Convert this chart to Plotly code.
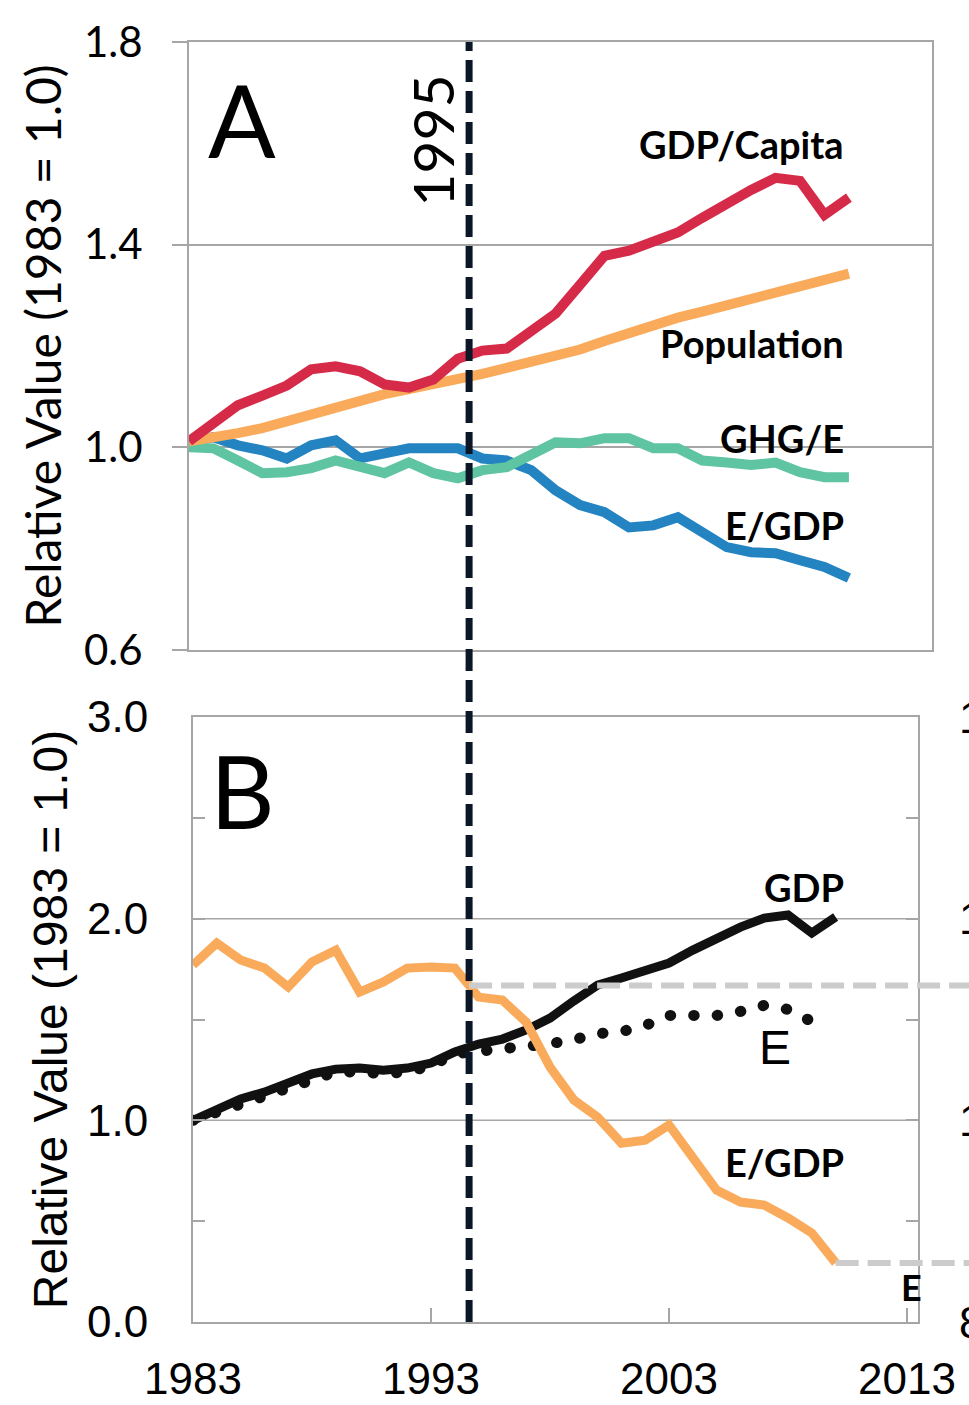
import numpy as np
import plotly.graph_objects as go

# ---------------- data ----------------
years = list(range(1983, 2011))

# Panel A (relative to 1983)
gdp_per_capita = [1.012, 1.047, 1.083, 1.102, 1.122, 1.154, 1.160, 1.150, 1.124, 1.118,
                  1.134, 1.175, 1.191, 1.195, 1.229, 1.264, 1.321, 1.378, 1.388, 1.406,
                  1.424, 1.453, 1.483, 1.508, 1.532, 1.526, 1.459, 1.493]
population = [1.012, 1.018, 1.028, 1.038, 1.052, 1.067, 1.081, 1.095, 1.105, 1.115,
              1.124, 1.132, 1.145, 1.157, 1.168, 1.180, 1.193, 1.210, 1.227, 1.244,
              1.256, 1.268, 1.280, 1.294, 1.309, 1.320, 1.332, 1.343]
ghg_per_energy = [1.000, 0.998, 0.974, 0.949, 0.951, 0.959, 0.974, 0.961, 0.949, 0.970,
                  0.949, 0.939, 0.955, 0.961, 0.988, 1.010, 1.008, 1.018, 1.018, 0.998,
                  0.998, 0.974, 0.970, 0.965, 0.970, 0.951, 0.941, 0.941]
energy_per_gdp_a = [1.012, 1.020, 1.004, 0.994, 0.978, 1.004, 1.014, 0.978, 0.988, 0.998,
                    0.998, 0.998, 0.978, 0.974, 0.955, 0.915, 0.886, 0.872, 0.842, 0.846,
                    0.862, 0.833, 0.803, 0.793, 0.791, 0.777, 0.764, 0.742]

# Panel B
gdp = [1.000, 1.056, 1.106, 1.140, 1.185, 1.230, 1.254, 1.259, 1.249, 1.259,
       1.284, 1.339, 1.378, 1.403, 1.448, 1.507, 1.592, 1.671, 1.706, 1.745,
       1.780, 1.844, 1.904, 1.958, 2.003, 2.018, 1.929, 2.008]
energy_years = list(range(1983, 2010))
energy = [1.000, 1.040, 1.090, 1.120, 1.160, 1.210, 1.240, 1.240, 1.230, 1.240,
          1.270, 1.330, 1.340, 1.350, 1.360, 1.380, 1.400, 1.430, 1.440, 1.470,
          1.520, 1.520, 1.520, 1.540, 1.570, 1.550, 1.490]
energy_per_gdp_b = [1.770, 1.879, 1.795, 1.755, 1.661, 1.785, 1.844, 1.636, 1.686, 1.755,
                    1.760, 1.755, 1.611, 1.596, 1.487, 1.264, 1.101, 1.016, 0.887, 0.902,
                    0.977, 0.818, 0.654, 0.595, 0.580, 0.516, 0.441, 0.293]

a_yticks = [0.6, 1.0, 1.4, 1.8]
b_yticks = [0.0, 0.5, 1.0, 1.5, 2.0, 2.5, 3.0]
b_yticktext = ["0.0", "", "1.0", "", "2.0", "", "3.0"]
b_xticks = [1983, 1993, 2003, 2013]
marker_year = 1994.6          # position of the "1995" dashed line
cut_labels = ["1", "1", "1", "8"]   # partly visible labels of a neighbouring axis
cut_label_vals = [3.0, 2.0, 1.0, 0.0]

# ---------------- style ----------------
W, H = 969, 1405
RED = "#d52b48"
ORANGE = "#f9aa5a"
BLUE = "#2484c1"
GREEN = "#5fc4a1"
BLACK = "#111111"
GRAY = "#a6a6a6"
NAVY = "#0b1626"
LIGHTGRAY = "#cccccc"
FA = "Lato"
FB = "Liberation Sans"

def px(x):
    return x / W

def py(y):
    return 1 - y / H

a_xdom = [px(189), px(932)]
a_ydom = [py(650), py(42)]
b_xdom = [px(193), px(918)]
b_ydom = [py(1322), py(717)]
a_xrange = [1983, 2013.4]
b_xrange = [1983, 2013.46]

fig = go.Figure()

# Panel A traces
for vals, col in [(energy_per_gdp_a, BLUE), (ghg_per_energy, GREEN),
                  (population, ORANGE), (gdp_per_capita, RED)]:
    fig.add_trace(go.Scatter(x=years, y=vals, mode="lines",
                             line=dict(color=col, width=10),
                             xaxis="x", yaxis="y", showlegend=False))

# Panel B traces
fig.add_trace(go.Scatter(x=years, y=gdp, mode="lines",
                         line=dict(color=BLACK, width=9),
                         xaxis="x2", yaxis="y2", showlegend=False))
fig.add_trace(go.Scatter(x=energy_years, y=energy, mode="lines",
                         line=dict(color=BLACK, width=11, dash="0.5px,23px"),
                         xaxis="x2", yaxis="y2", showlegend=False))
fig.add_trace(go.Scatter(x=years, y=energy_per_gdp_b, mode="lines",
                         line=dict(color=ORANGE, width=9),
                         xaxis="x2", yaxis="y2", showlegend=False))

axis_common = dict(showgrid=False, zeroline=False, showline=True, linecolor=GRAY,
                   linewidth=2, mirror=True, automargin=False)

fig.update_layout(
    width=W, height=H,
    margin=dict(l=0, r=0, t=0, b=0),
    paper_bgcolor="white", plot_bgcolor="white",
    showlegend=False,
    xaxis=dict(domain=a_xdom, range=a_xrange, anchor="y", showticklabels=False,
               ticks="", **axis_common),
    yaxis=dict(domain=a_ydom, range=[0.6, 1.8], anchor="x", tickvals=a_yticks,
               ticktext=[f"{v:.1f}" for v in a_yticks],
               showgrid=True, gridcolor=GRAY, gridwidth=1.5,
               zeroline=False, showline=True, linecolor=GRAY, linewidth=2, mirror=True,
               automargin=False,
               ticks="outside", ticklen=15, tickwidth=2, tickcolor=GRAY,
               ticklabelstandoff=21,
               tickfont=dict(family=FA, size=42, color="black"),
               title=dict(text="Relative Value (1983 = 1.0)",
                          font=dict(family=FA, size=48, color="black"), standoff=7)),
    xaxis2=dict(domain=b_xdom, range=b_xrange, anchor="y2", tickvals=b_xticks,
                ticks="inside", ticklen=14, tickwidth=2, tickcolor=GRAY,
                ticklabelstandoff=17,
                tickfont=dict(family=FB, size=44, color="black"),
                **axis_common),
    yaxis2=dict(domain=b_ydom, range=[0, 3], anchor="x2", tickvals=b_yticks,
                ticktext=b_yticktext,
                showgrid=False, zeroline=False, showline=True, linecolor=GRAY,
                linewidth=2, mirror="allticks", automargin=False,
                ticks="inside", ticklen=12, tickwidth=2, tickcolor=GRAY,
                ticklabelstandoff=34,
                tickfont=dict(family=FB, size=44, color="black"),
                title=dict(text="Relative Value (1983 = 1.0)",
                           font=dict(family=FB, size=48, color="black"), standoff=4)),
)

# gridlines for panel B (major values only)
for v in [1.0, 2.0]:
    fig.add_shape(type="line", xref="x2 domain", yref="y2", x0=0, x1=1, y0=v, y1=v,
                  line=dict(color=GRAY, width=1.5), layer="below")

# grey dashed reference lines from E/GDP curve toward the right-hand axis
span = b_xrange[1] - b_xrange[0]
y_mark = float(np.interp(marker_year, years, energy_per_gdp_b))
for x_start, y_val in [(marker_year, y_mark), (years[-1], energy_per_gdp_b[-1])]:
    fig.add_shape(type="line", xref="x2 domain", yref="y2",
                  x0=(x_start - b_xrange[0]) / span, x1=1.2, y0=y_val, y1=y_val,
                  line=dict(color=LIGHTGRAY, width=6, dash="23px,9px"), layer="above")

# vertical 1995 dashed line across both panels
fig.add_shape(type="line", xref="x2", yref="paper", x0=marker_year, x1=marker_year,
              y0=b_ydom[0], y1=a_ydom[1],
              line=dict(color=NAVY, width=7, dash="22px,9px"), layer="above")

# ---------------- annotations ----------------
def ann(text, x, y, xref, yref, size, family=FA, xanchor="center", bold=False, angle=0):
    fig.add_annotation(text=f"<b>{text}</b>" if bold else text, x=x, y=y, xref=xref,
                       yref=yref, showarrow=False, xanchor=xanchor, yanchor="middle",
                       textangle=angle, font=dict(family=family, size=size, color="black"))

ann("A", 1985.17, 1.648, "x", "y", 100)
ann("1995", 1992.94, 1.605, "x", "y", 57, angle=-90)
ann("GDP/Capita", 2009.88, 1.599, "x", "y", 38, xanchor="right", bold=True)
ann("Population", 2009.88, 1.205, "x", "y", 38, xanchor="right", bold=True)
ann("GHG/E", 2009.88, 1.018, "x", "y", 38, xanchor="right", bold=True)
ann("E/GDP", 2009.88, 0.846, "x", "y", 38, xanchor="right", bold=True)

ann("B", 1985.06, 2.638, "x2", "y2", 100)
ann("GDP", 2010.44, 2.157, "x2", "y2", 38, xanchor="right", bold=True)
ann("E", 2007.45, 1.363, "x2", "y2", 48, family=FB)
ann("E/GDP", 2010.44, 0.793, "x2", "y2", 38, xanchor="right", bold=True)
ann("E", 2013.2, 0.174, "x2", "y2", 36, bold=True)

for t, v in zip(cut_labels, cut_label_vals):
    fig.add_annotation(text=t, x=px(957), y=v, xref="paper", yref="y2", showarrow=False,
                       xanchor="left", yanchor="middle",
                       font=dict(family=FB, size=44, color="black"))

post = """
document.body.style.margin = '0';
document.querySelectorAll('path.js-line').forEach(function(p){
  var d = p.style.strokeDasharray || '';
  if (d.indexOf('0.5px') >= 0) { p.style.strokeLinecap = 'round'; }
});
"""
fig.write_html("out.html", post_script=post, config={"displayModeBar": False})
